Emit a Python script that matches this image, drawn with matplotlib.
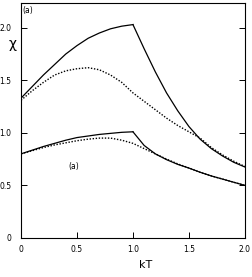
import matplotlib
matplotlib.use("Agg")
import matplotlib.pyplot as plt

kT_up = [0.0, 0.1, 0.2, 0.3, 0.4, 0.5, 0.6, 0.7, 0.8, 0.9, 1.0]
kT_down = [1.0, 1.1, 1.2, 1.3, 1.4, 1.5, 1.6, 1.7, 1.8, 1.9, 2.0]
kT_all = [0.0, 0.1, 0.2, 0.3, 0.4, 0.5, 0.6, 0.7, 0.8, 0.9, 1.0,
          1.1, 1.2, 1.3, 1.4, 1.5, 1.6, 1.7, 1.8, 1.9, 2.0]

# upper pair
chi_a_solid_up = [1.33, 1.44, 1.55, 1.65, 1.75, 1.83, 1.90, 1.95, 1.99, 2.015, 2.03]
chi_a_solid_down = [2.03, 1.80, 1.58, 1.38, 1.21, 1.06, 0.94, 0.85, 0.78, 0.72, 0.675]
chi_a_dotted = [1.31, 1.40, 1.48, 1.55, 1.59, 1.61, 1.62, 1.60, 1.55, 1.48, 1.38,
                1.30, 1.22, 1.14, 1.07, 1.01, 0.95, 0.86, 0.79, 0.73, 0.68]

# lower pair
chi_b_solid_up = [0.80, 0.835, 0.87, 0.90, 0.93, 0.955, 0.97, 0.985, 0.995, 1.005, 1.01]
chi_b_solid_down = [1.01, 0.88, 0.80, 0.745, 0.70, 0.665, 0.625, 0.59, 0.56, 0.53, 0.50]
chi_b_dotted = [0.80, 0.83, 0.86, 0.885, 0.905, 0.925, 0.94, 0.95, 0.95, 0.93, 0.90,
                0.85, 0.80, 0.75, 0.705, 0.665, 0.625, 0.59, 0.56, 0.53, 0.50]

xticks = [0, 0.5, 1.0, 1.5, 2.0]
xticklabels = ["0", "0.5", "1.0", "1.5", "2.0"]
yticks = [0, 0.5, 1.0, 1.5, 2.0]
yticklabels = ["0", "0.5", "1.0", "1.5", "2.0"]

fig = plt.figure(figsize=(2.53, 2.77), dpi=100)
ax = fig.add_axes([0.083, 0.141, 0.885, 0.848])

dot = (0, (1, 1.2))
ax.plot(kT_up, chi_a_solid_up, color="black", lw=0.9)
ax.plot(kT_down, chi_a_solid_down, color="black", lw=0.9)
ax.plot(kT_all, chi_a_dotted, color="black", lw=1.0, linestyle=dot)
ax.plot(kT_up, chi_b_solid_up, color="black", lw=0.9)
ax.plot(kT_down, chi_b_solid_down, color="black", lw=0.9)
ax.plot(kT_all, chi_b_dotted, color="black", lw=1.0, linestyle=dot)

ax.set_xlim(0, 2.0)
ax.set_ylim(0, 2.235)
ax.set_xticks(xticks)
ax.set_xticklabels(xticklabels)
ax.set_yticks(yticks)
ax.set_yticklabels(yticklabels)
ax.tick_params(direction="in", length=4, width=0.7, labelsize=5.5,
               right=True, top=False)
ax.tick_params(axis="y", pad=7)
ax.tick_params(axis="x", pad=5)
for s in ax.spines.values():
    s.set_linewidth(0.8)

ax.text(0.01, 2.21, "(a)", fontsize=5.5, va="top", ha="left")
ax.text(0.42, 0.68, "(a)", fontsize=5.5, va="center", ha="left")
fig.text(0.048, 0.84, "χ", fontsize=10, ha="center", va="center")
fig.text(0.575, 0.045, "kT", fontsize=8, ha="center", va="center")

fig.savefig("out.png", dpi=100)
